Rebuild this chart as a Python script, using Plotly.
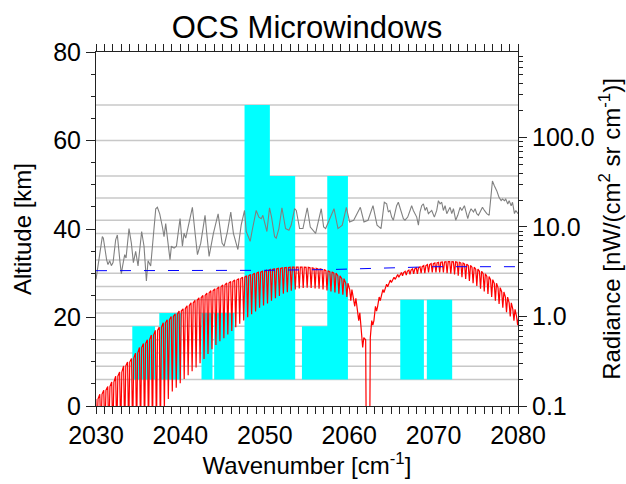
import plotly.graph_objects as go

# ---------------- data ----------------
retrieval_levels_km = [6, 9, 12, 15, 18, 21, 24, 27, 30, 33, 36, 39, 42, 47, 52, 60, 68]

mw_start = [2034.3, 2037.5, 2042.5, 2044.0, 2047.6, 2050.6, 2054.4, 2057.4, 2066.05, 2069.2]
mw_end = [2037.0, 2040.1, 2043.8, 2046.4, 2050.6, 2053.6, 2057.4, 2059.85, 2068.85, 2072.2]
mw_bottom = [6, 6, 6, 6, 6, 6, 6, 6, 6, 6]
mw_top = [18, 21, 21, 21, 68, 52, 18, 52, 24, 24]

gray_wn = [2030.0, 2030.24, 2030.75, 2030.87, 2031.15, 2031.26, 2031.42, 2031.62, 2031.82, 2032.02,
           2032.33, 2032.53, 2032.85, 2033.0, 2033.16, 2033.4, 2033.56, 2033.91, 2034.19, 2034.43,
           2034.7, 2034.98, 2035.41, 2035.69, 2035.97, 2036.17, 2036.48, 2037.08, 2037.27, 2037.55,
           2037.87, 2038.06, 2038.26, 2038.54, 2038.77, 2038.93, 2039.25, 2039.53, 2039.96, 2040.24,
           2040.43, 2040.63, 2041.42, 2041.74, 2042.02, 2042.41, 2042.92, 2043.12, 2043.4, 2043.91,
           2044.47, 2044.94, 2045.18, 2045.57, 2045.97, 2046.28, 2046.81, 2047.2, 2047.48, 2047.6,
           2047.8, 2048.07, 2048.27, 2048.51, 2048.98, 2049.3, 2049.58, 2049.77, 2050.09, 2050.25,
           2050.56, 2050.8, 2051.16, 2051.35, 2051.67, 2052.03, 2052.46, 2052.86, 2053.13, 2053.53,
           2053.73, 2054.12, 2054.52, 2055.03, 2055.39, 2056.02, 2056.69, 2056.97, 2057.21, 2058.2,
           2058.67, 2059.18, 2059.66, 2060.05, 2060.53, 2061.32, 2061.75, 2062.23, 2062.82, 2063.3,
           2063.77, 2063.92, 2064.16, 2064.44, 2064.64, 2064.83, 2065.03, 2065.23, 2065.43, 2065.62,
           2065.82, 2066.02, 2066.22, 2066.42, 2066.61, 2066.93, 2067.21, 2067.4, 2067.6, 2067.8,
           2068.0, 2068.2, 2068.39, 2068.59, 2068.79, 2068.99, 2069.18, 2069.38, 2069.58, 2069.78,
           2070.09, 2070.37, 2070.57, 2070.77, 2070.96, 2071.16, 2071.36, 2071.56, 2071.75, 2071.95,
           2072.15, 2072.35, 2072.62, 2072.86, 2073.14, 2073.34, 2073.65, 2073.81, 2074.05, 2074.2,
           2074.44, 2074.72, 2074.92, 2075.11, 2075.31, 2075.51, 2075.79, 2076.02, 2076.3, 2076.58,
           2076.74, 2076.97, 2077.21, 2077.49, 2077.76, 2078.0, 2078.16, 2078.4, 2078.55, 2078.79,
           2078.95, 2079.19, 2079.35, 2079.58, 2079.74, 2080.0]
gray_rad = [2.6, 3.67, 7.8, 7.5, 4.7, 4.3, 3.8, 4.2, 3.7, 4.0,
            7.2, 8.15, 4.0, 3.0, 3.7, 4.9, 4.5, 9.6, 6.6, 4.0,
            5.35, 3.67, 8.9, 6.1, 2.5, 4.2, 3.67, 16.0, 16.6, 14.0,
            10.0, 7.8, 10.9, 6.6, 4.3, 6.1, 5.8, 6.1, 12.4, 6.1,
            8.5, 7.5, 16.6, 8.5, 4.9, 6.6, 13.5, 8.5, 4.7, 8.5,
            14.0, 6.6, 6.1, 8.9, 14.7, 8.5, 5.6, 10.5, 13.5, 15.3,
            8.9, 7.8, 6.9, 9.2, 15.3, 12.9, 12.4, 13.5, 10.5, 8.9,
            16.4, 12.9, 7.8, 7.5, 9.6, 16.4, 9.6, 9.2, 10.5, 16.0,
            15.3, 9.6, 9.6, 16.4, 10.0, 8.5, 16.0, 10.0, 9.6, 16.0,
            9.6, 10.5, 16.6, 11.4, 11.9, 16.6, 11.4, 11.9, 17.3, 10.5,
            9.6, 12.9, 18.9, 18.1, 14.7, 15.3, 12.9, 11.9, 14.1, 17.3,
            18.9, 16.6, 14.1, 12.4, 11.9, 12.9, 15.3, 17.3, 15.3, 14.1,
            12.9, 10.5, 14.7, 17.3, 18.1, 15.3, 16.6, 14.1, 14.7, 15.3,
            12.9, 15.3, 19.7, 18.1, 18.9, 15.3, 17.3, 14.1, 15.3, 16.6,
            14.1, 16.0, 11.9, 13.5, 16.6, 15.3, 17.3, 14.7, 12.4, 14.1,
            16.0, 14.7, 16.0, 14.1, 13.5, 14.7, 16.6, 15.3, 14.1, 13.5,
            19.7, 32.6, 28.7, 25.3, 21.4, 19.7, 20.5, 19.7, 20.5, 18.1,
            19.7, 17.3, 18.9, 14.1, 15.3, 14.1]

# red: synthetic spectrum, line centres with envelope (top) and line-core (dip) radiances
p_line_wn = [2030.11, 2030.58, 2031.05, 2031.52, 2031.99, 2032.46, 2032.93, 2033.40, 2033.87, 2034.34,
             2034.81, 2035.28, 2035.75, 2036.22, 2036.69, 2037.16, 2037.63, 2038.10, 2038.57, 2039.04,
             2039.51, 2039.98, 2040.45, 2040.92, 2041.39, 2041.86, 2042.33, 2042.80, 2043.27, 2043.74,
             2044.21, 2044.68, 2045.15, 2045.62, 2046.09, 2046.56, 2047.03, 2047.50, 2047.97, 2048.44,
             2048.91, 2049.38, 2049.85, 2050.32, 2050.79, 2051.26, 2051.73, 2052.20, 2052.67, 2053.14,
             2053.61, 2054.08, 2054.55, 2055.02, 2055.49, 2055.96, 2056.43, 2056.90, 2057.37, 2057.84,
             2058.31, 2058.78, 2059.25, 2059.72, 2060.19, 2060.66, 2061.13, 2061.60]
p_line_top = [0.12, 0.135, 0.15, 0.165, 0.185, 0.215, 0.24, 0.28, 0.31, 0.34,
              0.39, 0.45, 0.5, 0.55, 0.62, 0.70, 0.76, 0.85, 0.92, 1.0,
              1.07, 1.15, 1.22, 1.32, 1.42, 1.52, 1.62, 1.72, 1.83, 1.94,
              2.04, 2.14, 2.25, 2.37, 2.46, 2.56, 2.65, 2.75, 2.85, 2.95,
              3.05, 3.13, 3.2, 3.28, 3.35, 3.4, 3.45, 3.5, 3.53, 3.56,
              3.57, 3.57, 3.56, 3.54, 3.5, 3.45, 3.4, 3.35, 3.25, 3.15,
              3.05, 2.85, 2.65, 2.35, 2.0, 1.6, 1.1, 0.58]
p_line_dip = [0.05, 0.05, 0.05, 0.05, 0.05, 0.05, 0.05, 0.05, 0.05, 0.05,
              0.05, 0.05, 0.05, 0.05, 0.05, 0.05, 0.05, 0.09, 0.12, 0.145,
              0.16, 0.18, 0.2, 0.22, 0.245, 0.27, 0.3, 0.335, 0.38, 0.43,
              0.48, 0.53, 0.57, 0.63, 0.69, 0.76, 0.83, 0.9, 0.98, 1.06,
              1.14, 1.25, 1.33, 1.4, 1.5, 1.6, 1.7, 1.8, 1.87, 1.94,
              2.0, 2.05, 2.08, 2.1, 2.08, 2.06, 2.04, 2.0, 1.95, 1.9,
              1.85, 1.8, 1.75, 1.65, 1.5, 1.3, 0.9, 0.45]
gap_wn = [2061.95, 2062.03, 2062.42, 2062.5]
gap_rad = [0.55, 0.03, 0.03, 0.58]
r_line_wn = [2062.80, 2063.24, 2063.68, 2064.12, 2064.56, 2065.00, 2065.44, 2065.88, 2066.32, 2066.76,
             2067.20, 2067.64, 2068.08, 2068.52, 2068.96, 2069.40, 2069.84, 2070.28, 2070.72, 2071.16,
             2071.60, 2072.04, 2072.48, 2072.92, 2073.36, 2073.80, 2074.24, 2074.68, 2075.12, 2075.56,
             2076.00, 2076.44, 2076.88, 2077.32, 2077.76, 2078.20, 2078.64, 2079.08, 2079.52, 2079.96]
r_line_top = [0.9, 1.3, 1.65, 2.0, 2.3, 2.55, 2.75, 2.95, 3.1, 3.2,
              3.3, 3.4, 3.5, 3.6, 3.7, 3.8, 3.9, 3.97, 4.03, 4.07,
              4.1, 4.1, 4.08, 4.03, 3.95, 3.85, 3.72, 3.55, 3.38, 3.2,
              3.0, 2.8, 2.58, 2.35, 2.1, 1.88, 1.65, 1.42, 1.2, 1.0]
r_line_dip = [0.8, 1.15, 1.5, 1.85, 2.15, 2.4, 2.6, 2.75, 2.85, 2.9,
              2.95, 3.0, 3.0, 3.05, 3.05, 3.1, 3.1, 3.1, 3.1, 3.1,
              3.05, 3.0, 2.95, 2.85, 2.75, 2.62, 2.5, 2.35, 2.2, 2.05,
              1.9, 1.78, 1.65, 1.5, 1.38, 1.25, 1.12, 1.0, 0.9, 0.8]

blue_wn = [2030, 2045, 2050, 2058, 2063, 2066, 2070, 2080]
blue_rad = [3.25, 3.25, 3.28, 3.35, 3.45, 3.5, 3.6, 3.6]

x_range = [2030, 2080]
alt_range = [0, 80]
rad_log_range = [-1, 2.955]
rad_ticks = [0.1, 1, 10, 100]
rad_ticktext = ["0.1", "1.0", "10.0", "100.0"]
rad_minor = [m * d for d in [0.1, 1, 10, 100] for m in range(2, 10) if m * d < 900]

# ---------------- build ----------------
FONT = "Liberation Sans, Arial, sans-serif"
HALF = 0.13  # half width of drawn line cores

lx, ly = [], []
for lv in retrieval_levels_km:
    lx += [x_range[0], x_range[1], None]
    ly += [lv, lv, None]

rx, ry = [], []
for s, e, b, t in zip(mw_start, mw_end, mw_bottom, mw_top):
    rx += [s, e, e, s, s, None]
    ry += [b, b, t, t, b, None]

red_x, red_y = [], []
for c, t, d in zip(p_line_wn, p_line_top, p_line_dip):
    red_x += [c - HALF, c, c + HALF]
    red_y += [t, d, t]
red_x += gap_wn
red_y += gap_rad
for c, t, d in zip(r_line_wn, r_line_top, r_line_dip):
    red_x += [c - HALF, c, c + HALF]
    red_y += [t, d, t]

fig = go.Figure()
fig.add_trace(go.Scatter(x=lx, y=ly, mode="lines", line=dict(color="#c8c8c8", width=1.5),
                         hoverinfo="skip", showlegend=False))
fig.add_trace(go.Scatter(x=rx, y=ry, mode="lines", fill="toself", fillcolor="#00ffff",
                         line=dict(width=0, color="#00ffff"), hoverinfo="skip", showlegend=False))
fig.add_trace(go.Scatter(x=gray_wn, y=gray_rad, yaxis="y2", mode="lines",
                         line=dict(color="#808080", width=1.1), showlegend=False))
fig.add_trace(go.Scatter(x=red_x, y=red_y, yaxis="y2", mode="lines",
                         line=dict(color="#ff0000", width=1.2), showlegend=False))
fig.add_trace(go.Scatter(x=blue_wn, y=blue_rad, yaxis="y2", mode="lines",
                         line=dict(color="#0000ff", width=1, dash="11px,13px"), showlegend=False))

axis_common = dict(showline=True, linecolor="#222222", linewidth=1, showgrid=False, zeroline=False,
                   ticks="outside", tickcolor="#222222", tickfont=dict(size=25, color="black", family=FONT))

fig.update_layout(
    width=626, height=484,
    margin=dict(l=96, r=108, t=52, b=72),
    paper_bgcolor="white", plot_bgcolor="white",
    font=dict(family=FONT, color="black", size=24),
    title=dict(text="OCS Microwindows", x=0.5, xref="paper", xanchor="center",
               y=1 - 27 / 484, yref="container", yanchor="middle",
               font=dict(size=31, family=FONT, color="black")),
    xaxis=dict(range=x_range, dtick=10, tick0=2030, ticklen=7, mirror="allticks",
               minor=dict(dtick=1, ticklen=3, ticks="outside", tickcolor="#222222"),
               title=dict(text="Wavenumber [cm<sup>-1</sup>]", font=dict(size=24), standoff=6),
               **axis_common),
    yaxis=dict(range=alt_range, dtick=20, tick0=0, ticklen=9,
               minor=dict(dtick=5, ticklen=4, ticks="outside", tickcolor="#222222"),
               title=dict(text="Altitude [km]", font=dict(size=24), standoff=14),
               **axis_common),
    yaxis2=dict(type="log", range=rad_log_range, overlaying="y", side="right",
                tickmode="array", tickvals=rad_ticks, ticktext=rad_ticktext, ticklen=8,
                minor=dict(tickmode="array", tickvals=rad_minor, ticklen=4, ticks="outside",
                           tickcolor="#222222"),
                title=dict(text="Radiance [nW/(cm<sup>2</sup> sr cm<sup>-1</sup>)]",
                           font=dict(size=24), standoff=2),
                **axis_common),
)

fig.write_html("out.html")
